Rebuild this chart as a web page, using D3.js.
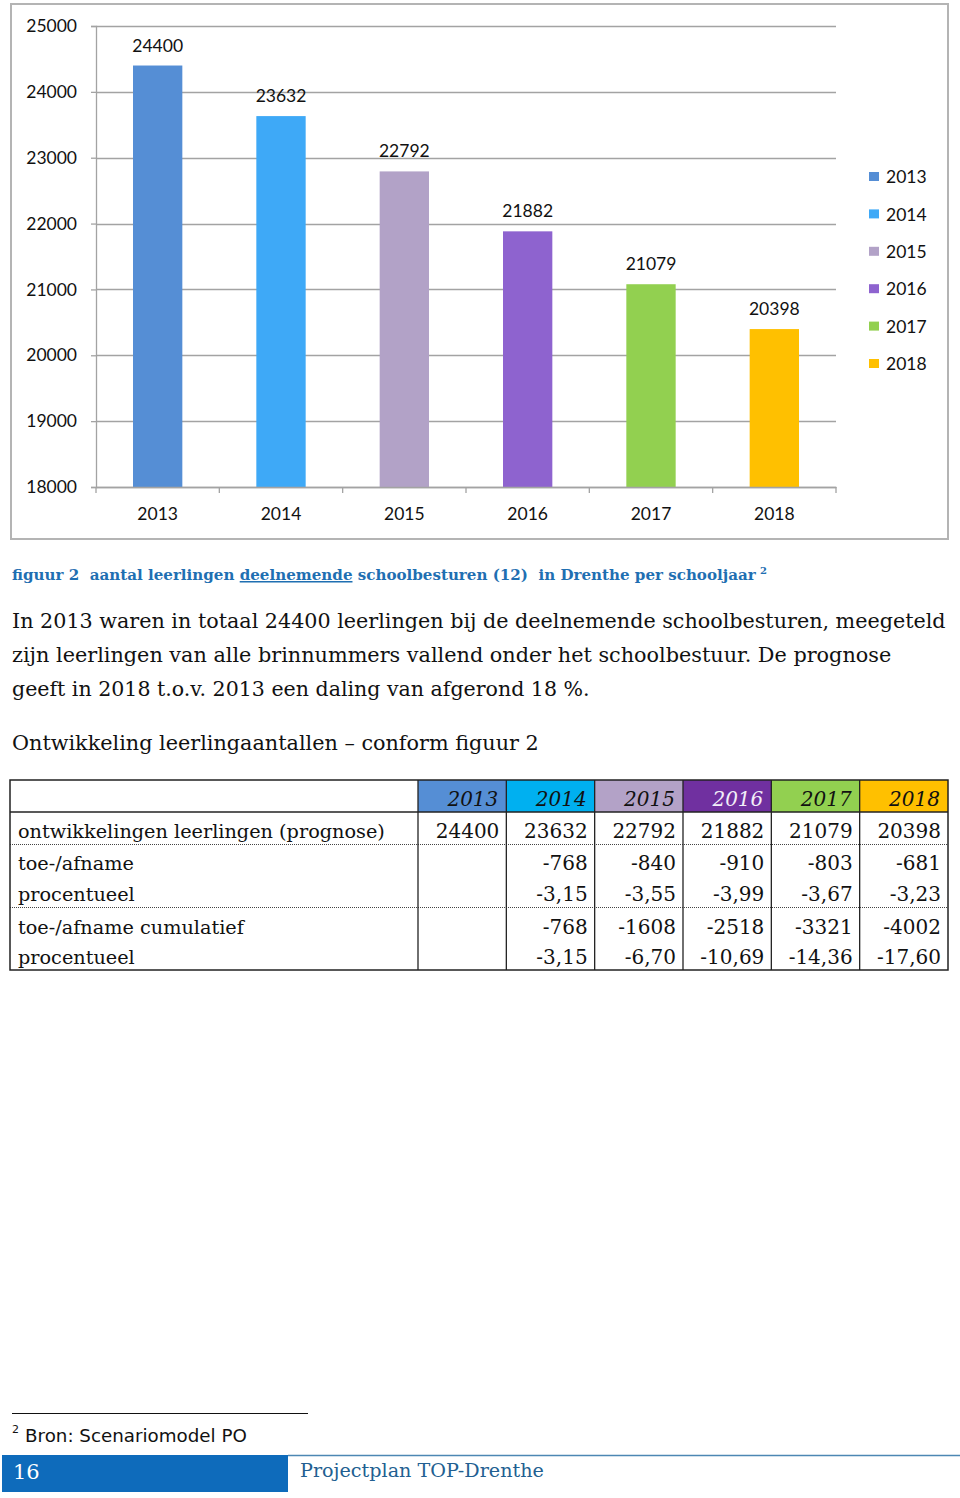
<!DOCTYPE html>
<html>
<head>
<meta charset="utf-8">
<script src="https://cdn.jsdelivr.net/npm/d3@7"></script>
<style>
  html, body { margin: 0; padding: 0; background: #fff; }
  svg { display: block; }
</style>
</head>
<body>
<div id="container"></div>
<script>
// chart + table data
const years = ['2013', '2014', '2015', '2016', '2017', '2018'];
const leerlingen = [24400, 23632, 22792, 21882, 21079, 20398];
const yTicks = [18000, 19000, 20000, 21000, 22000, 23000, 24000, 25000];
const barColors = ['#558ed5', '#3ea9f7', '#b2a2c7', '#8e63cf', '#92d050', '#ffc000'];
const headerColors = ['#558ed5', '#00b0f0', '#b3a2c7', '#7030a0', '#92d050', '#ffc000'];
const headerTextColors = ['#111', '#111', '#111', '#f2eef8', '#111', '#111'];

const rowLabels = ['ontwikkelingen leerlingen (prognose)', 'toe-/afname', 'procentueel', 'toe-/afname cumulatief', 'procentueel'];
const afname = ['', '-768', '-840', '-910', '-803', '-681'];
const afnamePct = ['', '-3,15', '-3,55', '-3,99', '-3,67', '-3,23'];
const cumulatief = ['', '-768', '-1608', '-2518', '-3321', '-4002'];
const cumulatiefPct = ['', '-3,15', '-6,70', '-10,69', '-14,36', '-17,60'];

const width = 960;
const height = 1498;
const svg = d3.select('#container').append('svg')
  .attr('width', width)
  .attr('height', height);

svg.append('rect').attr('width', width).attr('height', height).attr('fill', '#fff');

const chartFont = 'Lato, "Open Sans", sans-serif';
const serif = '"DejaVu Serif", serif';

// shrink / grow font so a text fits a measured width
function fit(sel, target) {
  const node = sel.node();
  const fs = parseFloat(sel.attr('font-size'));
  const w = node.getComputedTextLength();
  if (w > 0) sel.attr('font-size', (fs * target / w).toFixed(2));
  return sel;
}

// ---- chart frame
svg.append('rect')
  .attr('x', 11).attr('y', 4)
  .attr('width', 937).attr('height', 535)
  .attr('fill', 'none')
  .attr('stroke', '#b4b4b4')
  .attr('stroke-width', 2);

const plot = { left: 96, right: 836, top: 26, bottom: 487 };

const x = d3.scaleBand()
  .domain(years)
  .range([plot.left, plot.right])
  .paddingInner(0.6)
  .paddingOuter(0.3);

const y = d3.scaleLinear()
  .domain([18000, 25000])
  .range([plot.bottom, plot.top]);

const color = d3.scaleOrdinal().domain(years).range(barColors);

// gridlines
svg.append('g')
  .selectAll('line')
  .data(yTicks)
  .enter()
  .append('line')
  .attr('x1', plot.left).attr('x2', plot.right)
  .attr('y1', d => Math.round(y(d)) + 0.5).attr('y2', d => Math.round(y(d)) + 0.5)
  .attr('stroke', '#a3a3a3')
  .attr('stroke-width', 1.3);

// y axis
const yAxis = svg.append('g')
  .attr('transform', `translate(${plot.left},0)`)
  .call(d3.axisLeft(y).tickValues(yTicks).tickSize(5).tickPadding(14).tickFormat(d3.format('d')));
yAxis.select('.domain').attr('stroke', '#a3a3a3').attr('stroke-width', 1.3);
yAxis.selectAll('.tick line').attr('stroke', '#a3a3a3').attr('stroke-width', 1.3);
yAxis.selectAll('text')
  .attr('font-family', chartFont)
  .attr('font-size', 17.5)
  .attr('fill', '#111');

// bars
const barData = years.map((yr, i) => ({ year: yr, value: leerlingen[i] }));
svg.append('g')
  .selectAll('rect')
  .data(barData)
  .enter()
  .append('rect')
  .attr('x', d => x(d.year))
  .attr('y', d => y(d.value))
  .attr('width', x.bandwidth())
  .attr('height', d => plot.bottom - y(d.value))
  .attr('fill', d => color(d.year));

// value labels
svg.append('g')
  .selectAll('text')
  .data(barData)
  .enter()
  .append('text')
  .attr('x', d => x(d.year) + x.bandwidth() / 2)
  .attr('y', d => y(d.value) - 14)
  .attr('text-anchor', 'middle')
  .attr('font-family', chartFont)
  .attr('font-size', 17.5)
  .attr('fill', '#111')
  .text(d => d.value);

// x axis
const xAxis = svg.append('g')
  .attr('transform', `translate(0,${plot.bottom})`)
  .call(d3.axisBottom(x).tickSize(0).tickPadding(21));
xAxis.select('.domain').attr('stroke', '#a3a3a3').attr('stroke-width', 1.3);
xAxis.selectAll('text')
  .attr('font-family', chartFont)
  .attr('font-size', 17.5)
  .attr('fill', '#111');

// category boundary ticks
const gap = (x.step() - x.bandwidth()) / 2;
const bounds = years.map(d => x(d) - gap).concat([x(years[years.length - 1]) + x.bandwidth() + gap]);
xAxis.selectAll('.bound')
  .data(bounds)
  .enter()
  .append('line')
  .attr('class', 'bound')
  .attr('x1', d => d).attr('x2', d => d)
  .attr('y1', 0).attr('y2', 6)
  .attr('stroke', '#a3a3a3')
  .attr('stroke-width', 1.3);

// legend
const legend = svg.append('g').attr('transform', 'translate(869,172)');
const items = legend.selectAll('g')
  .data(years)
  .enter()
  .append('g')
  .attr('transform', (d, i) => `translate(0,${i * 37.4})`);
items.append('rect')
  .attr('width', 10).attr('height', 9)
  .attr('fill', d => color(d));
items.append('text')
  .attr('x', 17).attr('y', 5)
  .attr('dy', '0.35em')
  .attr('font-family', chartFont)
  .attr('font-size', 17.5)
  .attr('fill', '#111')
  .text(d => d);

// ---- caption
const cap = svg.append('text')
  .attr('x', 12).attr('y', 580)
  .attr('font-family', serif)
  .attr('font-weight', 'bold')
  .attr('font-size', 15)
  .attr('fill', '#1f6fb2');
cap.append('tspan').text('figuur 2\u00a0\u00a0aantal leerlingen ');
cap.append('tspan').attr('text-decoration', 'underline').text('deelnemende');
cap.append('tspan').text(' schoolbesturen (12)\u00a0\u00a0in Drenthe per schooljaar ');
fit(cap, 744);
svg.append('text')
  .attr('x', 760).attr('y', 574)
  .attr('font-family', serif)
  .attr('font-weight', 'bold')
  .attr('font-size', 10)
  .attr('fill', '#1f6fb2')
  .text('2');

// ---- paragraph
const para = [
  ['In 2013 waren in totaal 24400 leerlingen bij de deelnemende schoolbesturen, meegeteld', 934],
  ['zijn leerlingen van alle brinnummers vallend onder het schoolbestuur. De prognose', 880],
  ['geeft in 2018 t.o.v. 2013 een daling van afgerond 18 %.', 578]
];
para.forEach((p, i) => {
  const t = svg.append('text')
    .attr('x', 12).attr('y', 628 + i * 34)
    .attr('font-family', serif)
    .attr('font-size', 20)
    .attr('fill', '#111')
    .text(p[0]);
  fit(t, p[1]);
});

fit(svg.append('text')
  .attr('x', 12).attr('y', 750)
  .attr('font-family', serif)
  .attr('font-size', 20)
  .attr('fill', '#111')
  .text('Ontwikkeling leerlingaantallen \u2013 conform figuur 2'), 527);

// ---- table
const tbl = { left: 10, right: 948, top: 780, head: 812, bottom: 970, labelRight: 418 };
const col = d3.scaleBand().domain(years).range([tbl.labelRight, tbl.right]);
const table = svg.append('g');

table.selectAll('.hdr')
  .data(years)
  .enter()
  .append('rect')
  .attr('class', 'hdr')
  .attr('x', d => col(d)).attr('y', tbl.top)
  .attr('width', col.bandwidth()).attr('height', tbl.head - tbl.top)
  .attr('fill', (d, i) => headerColors[i]);

table.selectAll('.hdrtxt')
  .data(years)
  .enter()
  .append('text')
  .attr('class', 'hdrtxt')
  .attr('x', d => col(d) + col.bandwidth() - 8)
  .attr('y', 806)
  .attr('text-anchor', 'end')
  .attr('font-family', serif)
  .attr('font-style', 'italic')
  .attr('font-size', 20)
  .attr('fill', (d, i) => headerTextColors[i])
  .text(d => d);

const rows = [
  leerlingen.map(String),
  afname,
  afnamePct,
  cumulatief,
  cumulatiefPct
];
const rowBase = [838, 870, 901, 934, 964];

// label font sized so the longest label matches the reference width
const probe = fit(svg.append('text')
  .attr('font-family', serif).attr('font-size', 20)
  .text(rowLabels[0]), 367);
const labelSize = probe.attr('font-size');
probe.remove();

rows.forEach((r, ri) => {
  table.append('text')
    .attr('x', 18).attr('y', rowBase[ri])
    .attr('font-family', serif)
    .attr('font-size', labelSize)
    .attr('fill', '#111')
    .text(rowLabels[ri]);
  table.selectAll(null)
    .data(r)
    .enter()
    .append('text')
    .attr('x', (d, i) => col(years[i]) + col.bandwidth() - 7)
    .attr('y', rowBase[ri])
    .attr('text-anchor', 'end')
    .attr('font-family', serif)
    .attr('font-size', 20)
    .attr('fill', '#111')
    .text(d => d);
});

// dotted row separators
[844, 907].forEach(yy => {
  table.append('line')
    .attr('x1', tbl.left).attr('x2', tbl.right)
    .attr('y1', yy + 0.5).attr('y2', yy + 0.5)
    .attr('stroke', '#444')
    .attr('stroke-width', 1)
    .attr('stroke-dasharray', '1,1');
});

// solid lines
table.append('line')
  .attr('x1', tbl.left).attr('x2', tbl.right)
  .attr('y1', tbl.head).attr('y2', tbl.head)
  .attr('stroke', '#222').attr('stroke-width', 1.3);
table.selectAll('.vline')
  .data(years)
  .enter()
  .append('line')
  .attr('class', 'vline')
  .attr('x1', d => col(d)).attr('x2', d => col(d))
  .attr('y1', tbl.top).attr('y2', tbl.bottom)
  .attr('stroke', '#222').attr('stroke-width', 1.3);
table.append('rect')
  .attr('x', tbl.left).attr('y', tbl.top)
  .attr('width', tbl.right - tbl.left).attr('height', tbl.bottom - tbl.top)
  .attr('fill', 'none')
  .attr('stroke', '#222').attr('stroke-width', 1.5);

// ---- footnote
svg.append('line')
  .attr('x1', 12).attr('x2', 308)
  .attr('y1', 1413.5).attr('y2', 1413.5)
  .attr('stroke', '#111').attr('stroke-width', 1.2);
svg.append('text')
  .attr('x', 12).attr('y', 1433)
  .attr('font-family', '"DejaVu Sans", sans-serif')
  .attr('font-size', 11)
  .attr('fill', '#111')
  .text('2');
fit(svg.append('text')
  .attr('x', 25).attr('y', 1442)
  .attr('font-family', '"DejaVu Sans", sans-serif')
  .attr('font-size', 18)
  .attr('fill', '#111')
  .text('Bron: Scenariomodel PO'), 222);

// ---- page footer
svg.append('rect')
  .attr('x', 2).attr('y', 1455)
  .attr('width', 286).attr('height', 37)
  .attr('fill', '#0e6bbb');
svg.append('line')
  .attr('x1', 288).attr('x2', 960)
  .attr('y1', 1455.5).attr('y2', 1455.5)
  .attr('stroke', '#4d87b3').attr('stroke-width', 1.5);
svg.append('text')
  .attr('x', 13).attr('y', 1479)
  .attr('font-family', serif)
  .attr('font-size', 21)
  .attr('fill', '#fff')
  .text('16');
fit(svg.append('text')
  .attr('x', 300).attr('y', 1477)
  .attr('font-family', serif)
  .attr('font-size', 20)
  .attr('fill', '#225f91')
  .text('Projectplan TOP-Drenthe'), 244);
</script>
</body>
</html>
